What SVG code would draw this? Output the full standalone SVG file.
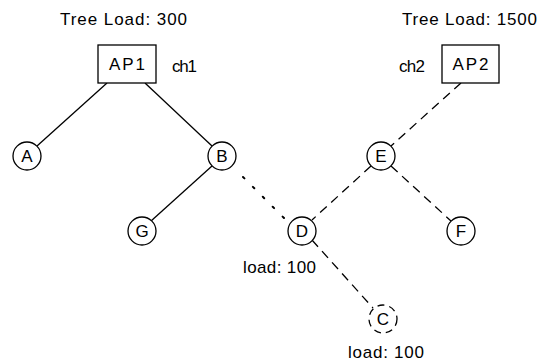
<svg xmlns="http://www.w3.org/2000/svg" width="540" height="362" viewBox="0 0 540 362">
<style>
text{font-family:"Liberation Sans",Arial,sans-serif;fill:#000}
.lbl{font-size:17px}
.nt{font-size:17px;text-anchor:middle}
.node{fill:#fff;stroke:#000;stroke-width:1.3}
.ln{stroke:#000;stroke-width:1.3;fill:none}
.dash{stroke-dasharray:9 6}
.dot{stroke-dasharray:2 12;stroke-linecap:round;stroke-width:2}
</style>
<rect width="540" height="362" fill="#fff"/>
<g id="connectors">
<line class="ln" x1="107" y1="83" x2="37" y2="146"/>
<line class="ln" x1="145" y1="83" x2="212" y2="146"/>
<line class="ln" x1="212" y1="166" x2="151" y2="221"/>
<line class="ln dot" x1="243" y1="177" x2="284" y2="218"/>
<line class="ln dash" x1="461" y1="83" x2="391" y2="146"/>
<line class="ln dash" x1="371" y1="166" x2="312" y2="220"/>
<line class="ln dash" x1="391" y1="166" x2="451" y2="221"/>
<line class="ln dash" x1="312" y1="240" x2="373" y2="308"/>
</g>
<g id="AP1"><rect class="node" x="98" y="45" width="58" height="38"/><text class="nt" x="127" y="70" textLength="36">AP1</text></g>
<g id="AP2"><rect class="node" x="442" y="45" width="57" height="38"/><text class="nt" x="470.5" y="70" textLength="36">AP2</text></g>
<g id="A"><circle class="node" cx="27" cy="156" r="14"/><text class="nt" x="27" y="162">A</text></g>
<g id="B"><circle class="node" cx="222" cy="156" r="14"/><text class="nt" x="222" y="162">B</text></g>
<g id="E"><circle class="node" cx="381" cy="156" r="14"/><text class="nt" x="381" y="162">E</text></g>
<g id="G"><circle class="node" cx="142" cy="231" r="14"/><text class="nt" x="142" y="237">G</text></g>
<g id="D"><circle class="node" cx="302" cy="231" r="14"/><text class="nt" x="302" y="237">D</text></g>
<g id="F"><circle class="node" cx="461" cy="231" r="14"/><text class="nt" x="461" y="237">F</text></g>
<g id="C"><circle class="node" cx="383" cy="319" r="14" style="stroke-dasharray:7 5"/><text class="nt" x="383" y="325">C</text></g>
<g id="labels">
<text class="lbl" x="60" y="25" textLength="127">Tree Load: 300</text>
<text class="lbl" x="402" y="25" textLength="135">Tree Load: 1500</text>
<text class="lbl" x="172" y="72" textLength="25">ch1</text>
<text class="lbl" x="399" y="72" textLength="26">ch2</text>
<text class="lbl" x="243" y="273" textLength="73">load: 100</text>
<text class="lbl" x="348" y="358" textLength="76">load: 100</text>
</g>
</svg>
